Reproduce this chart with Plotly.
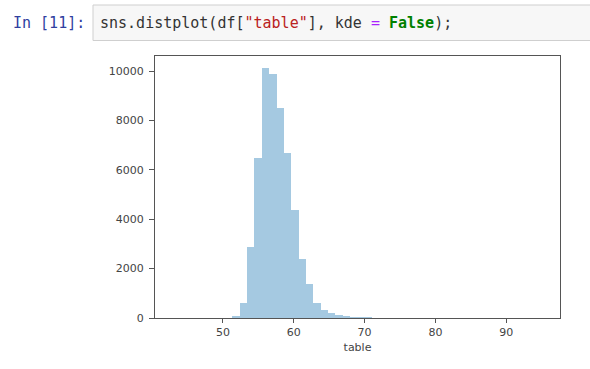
import plotly.graph_objects as go

# ---- data ----
data_min = 43.0
data_max = 95.0
n_bins = 50
counts = [0, 0, 0, 0, 0, 0, 0, 0, 50, 600,
          2860, 6490, 10110, 9880, 8490, 6670, 4370, 2375, 1376, 594,
          324, 190, 120, 70, 40, 20, 10, 0, 0, 0,
          0, 0, 0, 0, 0, 0, 0, 0, 0, 0,
          0, 0, 0, 0, 0, 0, 0, 0, 0, 0]
x_ticks = [50, 60, 70, 80, 90]
y_ticks = [0, 2000, 4000, 6000, 8000, 10000]
x_label = "table"
prompt_text = "In [11]:"

bw = (data_max - data_min) / n_bins
centers = [data_min + bw * (i + 0.5) for i in range(n_bins)]

# plot-area pixel geometry
L, R, T, B = 155, 560, 56, 318
W, H = 590, 369
def px(x):
    return (x - L) / (R - L)
def py(y):
    return (B - y) / (B - T)

fig = go.Figure()
fig.add_trace(go.Bar(
    x=centers, y=counts, width=[bw] * n_bins,
    marker=dict(color="rgb(165,201,225)", line=dict(width=0)),
    hoverinfo="x+y", showlegend=False,
))

xr = [data_min - 0.05 * (data_max - data_min), data_max + 0.05 * (data_max - data_min)]
yr = [0, max(counts) * 1.05]

tickfont = dict(family="DejaVu Sans", size=11, color="#444")
fig.update_xaxes(range=xr, tickvals=x_ticks, ticktext=[str(v) for v in x_ticks],
                 showgrid=False, zeroline=False, ticks="outside", ticklen=4,
                 tickcolor="#555", showline=True, linecolor="#555", linewidth=1,
                 mirror=True, tickfont=tickfont, layer="above traces",
                 title=dict(text=x_label, font=tickfont, standoff=5))
fig.update_yaxes(range=yr, tickvals=y_ticks, ticktext=[str(v) for v in y_ticks],
                 showgrid=False, zeroline=False, ticks="outside", ticklen=5,
                 tickcolor="#555", showline=True, linecolor="#555", linewidth=1,
                 mirror=True, tickfont=tickfont, ticklabelstandoff=3,
                 layer="above traces")

shapes = [dict(type="rect", xref="paper", yref="paper",
               x0=px(93), x1=px(600), y0=py(40.5), y1=py(5),
               fillcolor="#f7f7f7", line=dict(color="#cfcfcf", width=1), layer="below")]

code_html = ('sns.distplot(df[<span style="color:#BA2121">"table"</span>], kde '
             '<span style="color:#AA22FF">=</span> '
             '<span style="color:#008000"><b>False</b></span>);')
mono = "DejaVu Sans Mono"
annotations = [
    dict(text=prompt_text, xref="paper", yref="paper", x=px(11), y=py(23),
         xanchor="left", yanchor="middle", showarrow=False,
         font=dict(family=mono, size=15, color="#303F9F")),
    dict(text=code_html, xref="paper", yref="paper", x=px(98), y=py(23),
         xanchor="left", yanchor="middle", showarrow=False,
         font=dict(family=mono, size=15, color="#333")),
]

fig.update_layout(width=W, height=H, margin=dict(l=L, r=W - R, t=T, b=H - B),
                  paper_bgcolor="white", plot_bgcolor="white", bargap=0,
                  shapes=shapes, annotations=annotations)

fig.write_html("out.html")
